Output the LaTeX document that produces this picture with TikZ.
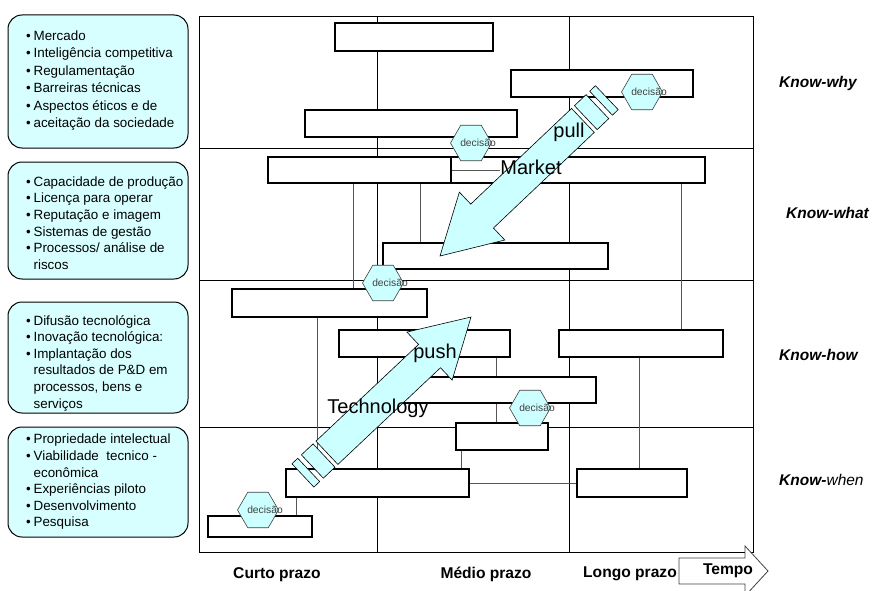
\documentclass[tikz,border=0pt]{standalone}
\usepackage{fontspec}
\setmainfont{Liberation Sans}
\usetikzlibrary{shapes.geometric,fit}
\definecolor{cyanfill}{RGB}{204,255,255}
\definecolor{boxfill}{RGB}{216,255,255}
\definecolor{hexline}{RGB}{64,64,64}
\definecolor{conncol}{RGB}{85,85,85}
\newcommand\myb{\makebox[7.4pt][l]{\textbullet}}
\newcommand\myi{\hspace*{7.4pt}}
\begin{document}
\begin{tikzpicture}[x=1pt,y=-1pt,
  gridline/.style={draw=black,line width=0.8pt},
  bar/.style={rectangle,draw=black,line width=1.5pt,fill=white,inner sep=0pt},
  conn/.style={draw=conncol,line width=0.9pt},
  hexa/.style={regular polygon,regular polygon sides=6,minimum size=41pt,inner sep=0pt,draw=hexline,line width=0.6pt,fill=cyanfill},
  dtext/.style={font=\fontsize{10.3}{12}\selectfont,text=hexline,inner sep=0pt},
  lbox/.style={rectangle,rounded corners=14pt,draw=black,line width=1pt,fill=boxfill,inner sep=0pt},
  ltext/.style={align=left,anchor=west,inner sep=0pt,font=\fontsize{13.4}{16.6}\selectfont},
  know/.style={anchor=west,inner sep=0pt,font=\fontsize{15.5}{18}\selectfont},
  axislab/.style={inner sep=0pt,font=\fontsize{15.6}{18}\selectfont\bfseries},
  big/.style={inner sep=0pt,font=\fontsize{20}{24}\selectfont},
  blockarrow/.style={draw=black,line width=0.6pt,fill=cyanfill},
]
\useasboundingbox (0,0) rectangle (872,591);

% left boxes
\node[lbox, fit={(8,15)(188,148)}] (L1) {};
\node[lbox, fit={(8,162)(188,279)}] (L2) {};
\node[lbox, fit={(8,302)(188,413)}] (L3) {};
\node[lbox, fit={(8,427)(188,537)}] (L4) {};
\node[ltext, font=\fontsize{13.4}{17.4}\selectfont] (T1) at (26,80.5) {\myb Mercado\\ \myb Inteligência competitiva\\ \myb Regulamentação\\ \myb Barreiras técnicas\\ \myb Aspectos éticos e de\\ \myb aceitação da sociedade};
\node[ltext] (T2) at (26,223) {\myb Capacidade de produção\\ \myb Licença para operar\\ \myb Reputação e imagem\\ \myb Sistemas de gestão\\ \myb Processos/ análise de\\ \myi riscos};
\node[ltext] (T3) at (26,363) {\myb Difusão tecnológica\\ \myb Inovação tecnológica:\\ \myb Implantação dos\\ \myi resultados de P\&D em\\ \myi processos, bens e\\ \myi serviços};
\node[ltext] (T4) at (26,482) {\myb Propriedade intelectual\\ \myb Viabilidade\ \ tecnico -\\ \myi econômica\\ \myb Experiências piloto\\ \myb Desenvolvimento\\ \myb Pesquisa};

% grid
\draw[gridline] (199,16) rectangle (753,552);
\draw[gridline] (377,16) -- (377,552);
\draw[gridline] (569,16) -- (569,552);
\draw[gridline] (199,148) -- (753,148);
\draw[gridline] (199,280) -- (753,280);
\draw[gridline] (199,427) -- (753,427);

% bars
\node[bar, fit={(335,23)(493,51)}] (b1) {};
\node[bar, fit={(511,70)(693,97)}] (b2) {};
\node[bar, fit={(305,110)(517,137)}] (b3) {};
\node[bar, fit={(268,157)(705,183)}] (b4) {};
\node[bar, fit={(268,157)(451,183)}] (b4a) {};
\node[bar, fit={(383,243)(608,269)}] (b5) {};
\node[bar, fit={(232,289)(427,317)}] (b6) {};
\node[bar, fit={(339,330)(510,357)}] (b7) {};
\node[bar, fit={(559,330)(723,357)}] (b8) {};
\node[bar, fit={(395,377)(596,403)}] (b9) {};
\node[bar, fit={(456,423)(548,450)}] (b10) {};
\node[bar, fit={(286,469)(469,497)}] (b11) {};
\node[bar, fit={(577,469)(687,497)}] (b12) {};
\node[bar, fit={(208,516)(312,537)}] (b13) {};

% connectors
\coordinate (x296) at (296,0);
\coordinate (x317) at (317,0);
\coordinate (x353) at (353,0);
\coordinate (x420) at (420,0);
\coordinate (x461) at (461,0);
\coordinate (x496) at (496,0);
\coordinate (x639) at (639,0);
\coordinate (x681) at (681,0);
\coordinate (mk) at (500,170);
\draw[conn] (b4a.east) -- (mk);
\draw[conn] (b4.south -| x353) -- (b6.north -| x353);
\draw[conn] (b4.south -| x420) -- (b5.north -| x420);
\draw[conn] (b4.south -| x681) -- (b8.north -| x681);
\draw[conn] (b6.south -| x317) -- (b11.north -| x317);
\draw[conn] (b7.south -| x496) -- (b9.north -| x496);
\draw[conn] (b9.south -| x496) -- (b10.north -| x496);
\draw[conn] (b10.south -| x461) -- (b11.north -| x461);
\draw[conn] (b8.south -| x639) -- (b12.north -| x639);
\draw[conn] (b11.south -| x296) -- (b13.north -| x296);
\draw[conn] (b11.east) -- (b12.west);

% decision hexagons
\foreach \n/\p in {d1/{(471,143)}, d2/{(642,92)}, d3/{(383,283)}, d4/{(530,408)}, d5/{(258,510)}} {
  \node[hexa] (\n) at \p {};
  \node[dtext] at ([xshift=7pt]\n.center) {decisão};
}

% market pull arrow
\begin{scope}[shift={(440,256)},rotate=43.5]
  \draw[blockarrow] (0,0) -- (58,-33) -- (58,-16.5) -- (197,-16.5) -- (197,16.5) -- (58,16.5) -- (58,33) -- cycle;
  \draw[blockarrow] (201,-16.5) rectangle (217,16.5);
  \draw[blockarrow] (222,-16.5) rectangle (230,16.5);
\end{scope}
% technology push arrow
\begin{scope}[shift={(471,317)},rotate=223.3]
  \draw[blockarrow] (0,0) -- (57,-33) -- (57,-16) -- (198,-16) -- (198,16) -- (57,16) -- (57,33) -- cycle;
  \draw[blockarrow] (202,-16) rectangle (218,16);
  \draw[blockarrow] (223,-16) rectangle (231,16);
\end{scope}

\node[big] (mkt) at (531,167) {Market};
\node[big] (pul) at (569,132) {pull};
\node[big] (tec) at (378,408) {Technology};
\node[big] (psh) at (435,353) {push};

% right labels
\node[know] (k1) at (779,83) {\bfseries\itshape Know-why};
\node[know] (k2) at (786,213) {\bfseries\itshape Know-what};
\node[know] (k3) at (779,355) {\bfseries\itshape Know-how};
\node[know] (k4) at (779,480) {{\bfseries\itshape Know-}{\itshape when}};

% time axis
\draw[draw=hexline,line width=0.8pt,fill=white] (679,558) -- (745,558) -- (745,546) -- (768,571) -- (745,596) -- (745,584) -- (679,584) -- cycle;
\node[axislab] (c1) at (277,575) {Curto prazo};
\node[axislab] (c2) at (486,574) {Médio prazo};
\node[axislab] (c3) at (630,574) {Longo prazo};
\node[axislab] (c4) at (728,571) {Tempo};
\end{tikzpicture}
\end{document}
